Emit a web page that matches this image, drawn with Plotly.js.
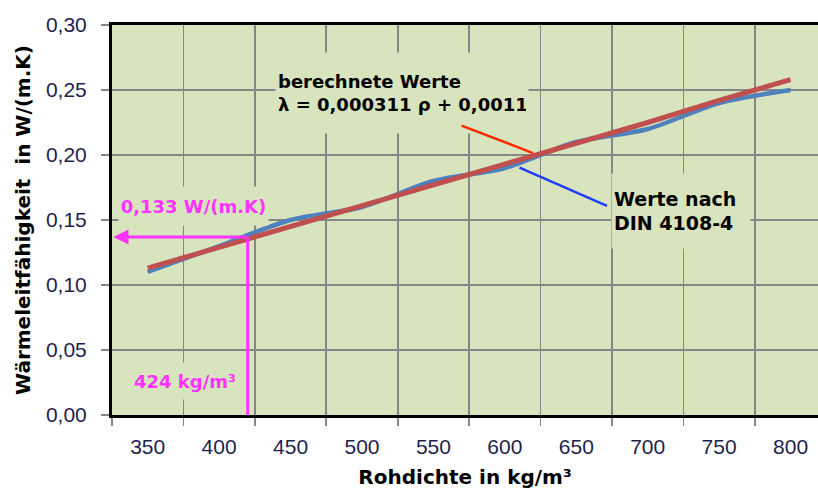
<!DOCTYPE html>
<html>
<head>
<meta charset="utf-8">
<script src="https://cdn.plot.ly/plotly-3.0.1.min.js"></script>
<style>html,body{margin:0;padding:0;overflow:hidden;background:#fff;}</style>
</head>
<body>
<div id="chart" style="width:818px;height:493px;"></div>
<script>
// Data
const density = [350, 400, 450, 500, 550, 600, 650, 700, 750, 800];
const dinValues = [0.110, 0.130, 0.150, 0.160, 0.180, 0.190, 0.210, 0.220, 0.240, 0.250];
const calcValues = [0.113, 0.129, 0.145, 0.161, 0.177, 0.193, 0.209, 0.225, 0.242, 0.258];
const densityLabels = ['350', '400', '450', '500', '550', '600', '650', '700', '750', '800'];
const yTicks = [0, 0.05, 0.10, 0.15, 0.20, 0.25, 0.30];
const yTickLabels = ['0,00', '0,05', '0,10', '0,15', '0,20', '0,25', '0,30'];
const readDensity = 420;      // where the magenta guide meets the axis
const readValue = 0.137;      // height of the magenta guide

const bg = '#d7e4bd';
const magenta = '#ff33ff';
const boldFont = 'DejaVu Sans, Arial, sans-serif';
const tickFont = {family: 'Liberation Sans, Arial, sans-serif', size: 21, color: '#1f1f4f'};
const boundaries = density.map(d => d - 25);
const xRange = [325, 819.2];

const traces = [
  {x: density, y: dinValues, type: 'scatter', mode: 'lines', xaxis: 'x', yaxis: 'y',
   line: {color: '#4f81bd', width: 4.5, shape: 'spline', smoothing: 0.8}, hoverinfo: 'skip'},
  {x: density, y: calcValues, type: 'scatter', mode: 'lines', xaxis: 'x', yaxis: 'y',
   line: {color: '#c0504d', width: 5}, hoverinfo: 'skip'},
  // carrier for the category labels axis (draws nothing)
  {x: density, y: calcValues, type: 'scatter', mode: 'none', xaxis: 'x2', yaxis: 'y', hoverinfo: 'skip'}
];

function pointer(x0, y0, x1, y1, color) {
  return {xref: 'x', yref: 'y', axref: 'x', ayref: 'y', x: x1, y: y1, ax: x0, ay: y0,
          text: '', showarrow: true, arrowhead: 0, arrowwidth: 2.5, arrowcolor: color, standoff: 0, startstandoff: 0};
}

const layout = {
  width: 818, height: 493,
  margin: {l: 112, r: 0, t: 25, b: 78},
  paper_bgcolor: '#ffffff', plot_bgcolor: bg,
  showlegend: false,
  xaxis: {
    range: xRange, tickvals: boundaries, ticktext: boundaries.map(() => ''),
    showgrid: true, gridcolor: '#868686', gridwidth: 1.6,
    ticks: 'outside', ticklen: 8, tickcolor: '#868686', tickwidth: 1.6,
    showline: true, linecolor: '#000000', linewidth: 3, mirror: true,
    zeroline: false, fixedrange: true
  },
  xaxis2: {
    overlaying: 'x', anchor: 'y', side: 'bottom', range: xRange,
    tickvals: density, ticktext: densityLabels, tickfont: tickFont,
    showgrid: false, ticks: '', showline: false, zeroline: false,
    ticklabelstandoff: 17,
    title: {text: '<b>Rohdichte in kg/m³</b>', font: {family: boldFont, size: 20, color: '#000'}, standoff: 12}
  },
  yaxis: {
    range: [0, 0.30], tickvals: yTicks, ticktext: yTickLabels, tickfont: tickFont,
    showgrid: true, gridcolor: '#868686', gridwidth: 1.6,
    ticks: 'outside', ticklen: 8, tickcolor: '#868686', tickwidth: 1.6,
    showline: true, linecolor: '#000000', linewidth: 3,
    zeroline: false, ticklabelstandoff: 10,
    title: {text: '<b>Wärmeleitfähigkeit  in W/(m.K)</b>', font: {family: boldFont, size: 20, color: '#000'}, standoff: 10}
  },
  shapes: [
    {type: 'line', xref: 'x', yref: 'y', x0: readDensity, x1: readDensity, y0: readValue, y1: 0,
     line: {color: magenta, width: 3}}
  ],
  annotations: [
    {xref: 'x', yref: 'y', x: 326, y: readValue, ax: readDensity, ay: readValue, axref: 'x', ayref: 'y',
     text: '', showarrow: true, arrowhead: 2, arrowsize: 1, arrowwidth: 3, arrowcolor: magenta, standoff: 0},
    {xref: 'x', yref: 'y', x: 528.3, y: 0.248, showarrow: false, align: 'left',
     width: 248, height: 76, bgcolor: bg, borderpad: 2,
     text: '<b>berechnete Werte</b><br><b>λ = 0,000311 ρ + 0,0011</b>',
     font: {family: boldFont, size: 18, color: '#000'}},
    {xref: 'x', yref: 'y', x: 723.3, y: 0.1573, showarrow: false, align: 'left',
     width: 134, height: 70, bgcolor: bg, borderpad: 2,
     text: '<b>Werte nach</b><br><b>DIN 4108-4</b>',
     font: {family: boldFont, size: 19, color: '#000'}},
    {xref: 'x', yref: 'y', x: 382, y: 0.1608, showarrow: false,
     width: 145, height: 34, bgcolor: bg, borderpad: 2,
     text: '<b>0,133 W/(m.K)</b>', font: {family: boldFont, size: 18, color: magenta}},
    {xref: 'x', yref: 'y', x: 376.1, y: 0.0265, showarrow: false,
     width: 108, height: 32, bgcolor: bg, borderpad: 2,
     text: '<b>424 kg/m³</b>', font: {family: boldFont, size: 18, color: magenta}},
    pointer(568.6, 0.2231, 619.7, 0.2015, '#ff2a00'),
    pointer(609.2, 0.1908, 671.5, 0.1608, '#1f3cff')
  ]
};

Plotly.newPlot('chart', traces, layout, {displayModeBar: false, staticPlot: true});
</script>
</body>
</html>
